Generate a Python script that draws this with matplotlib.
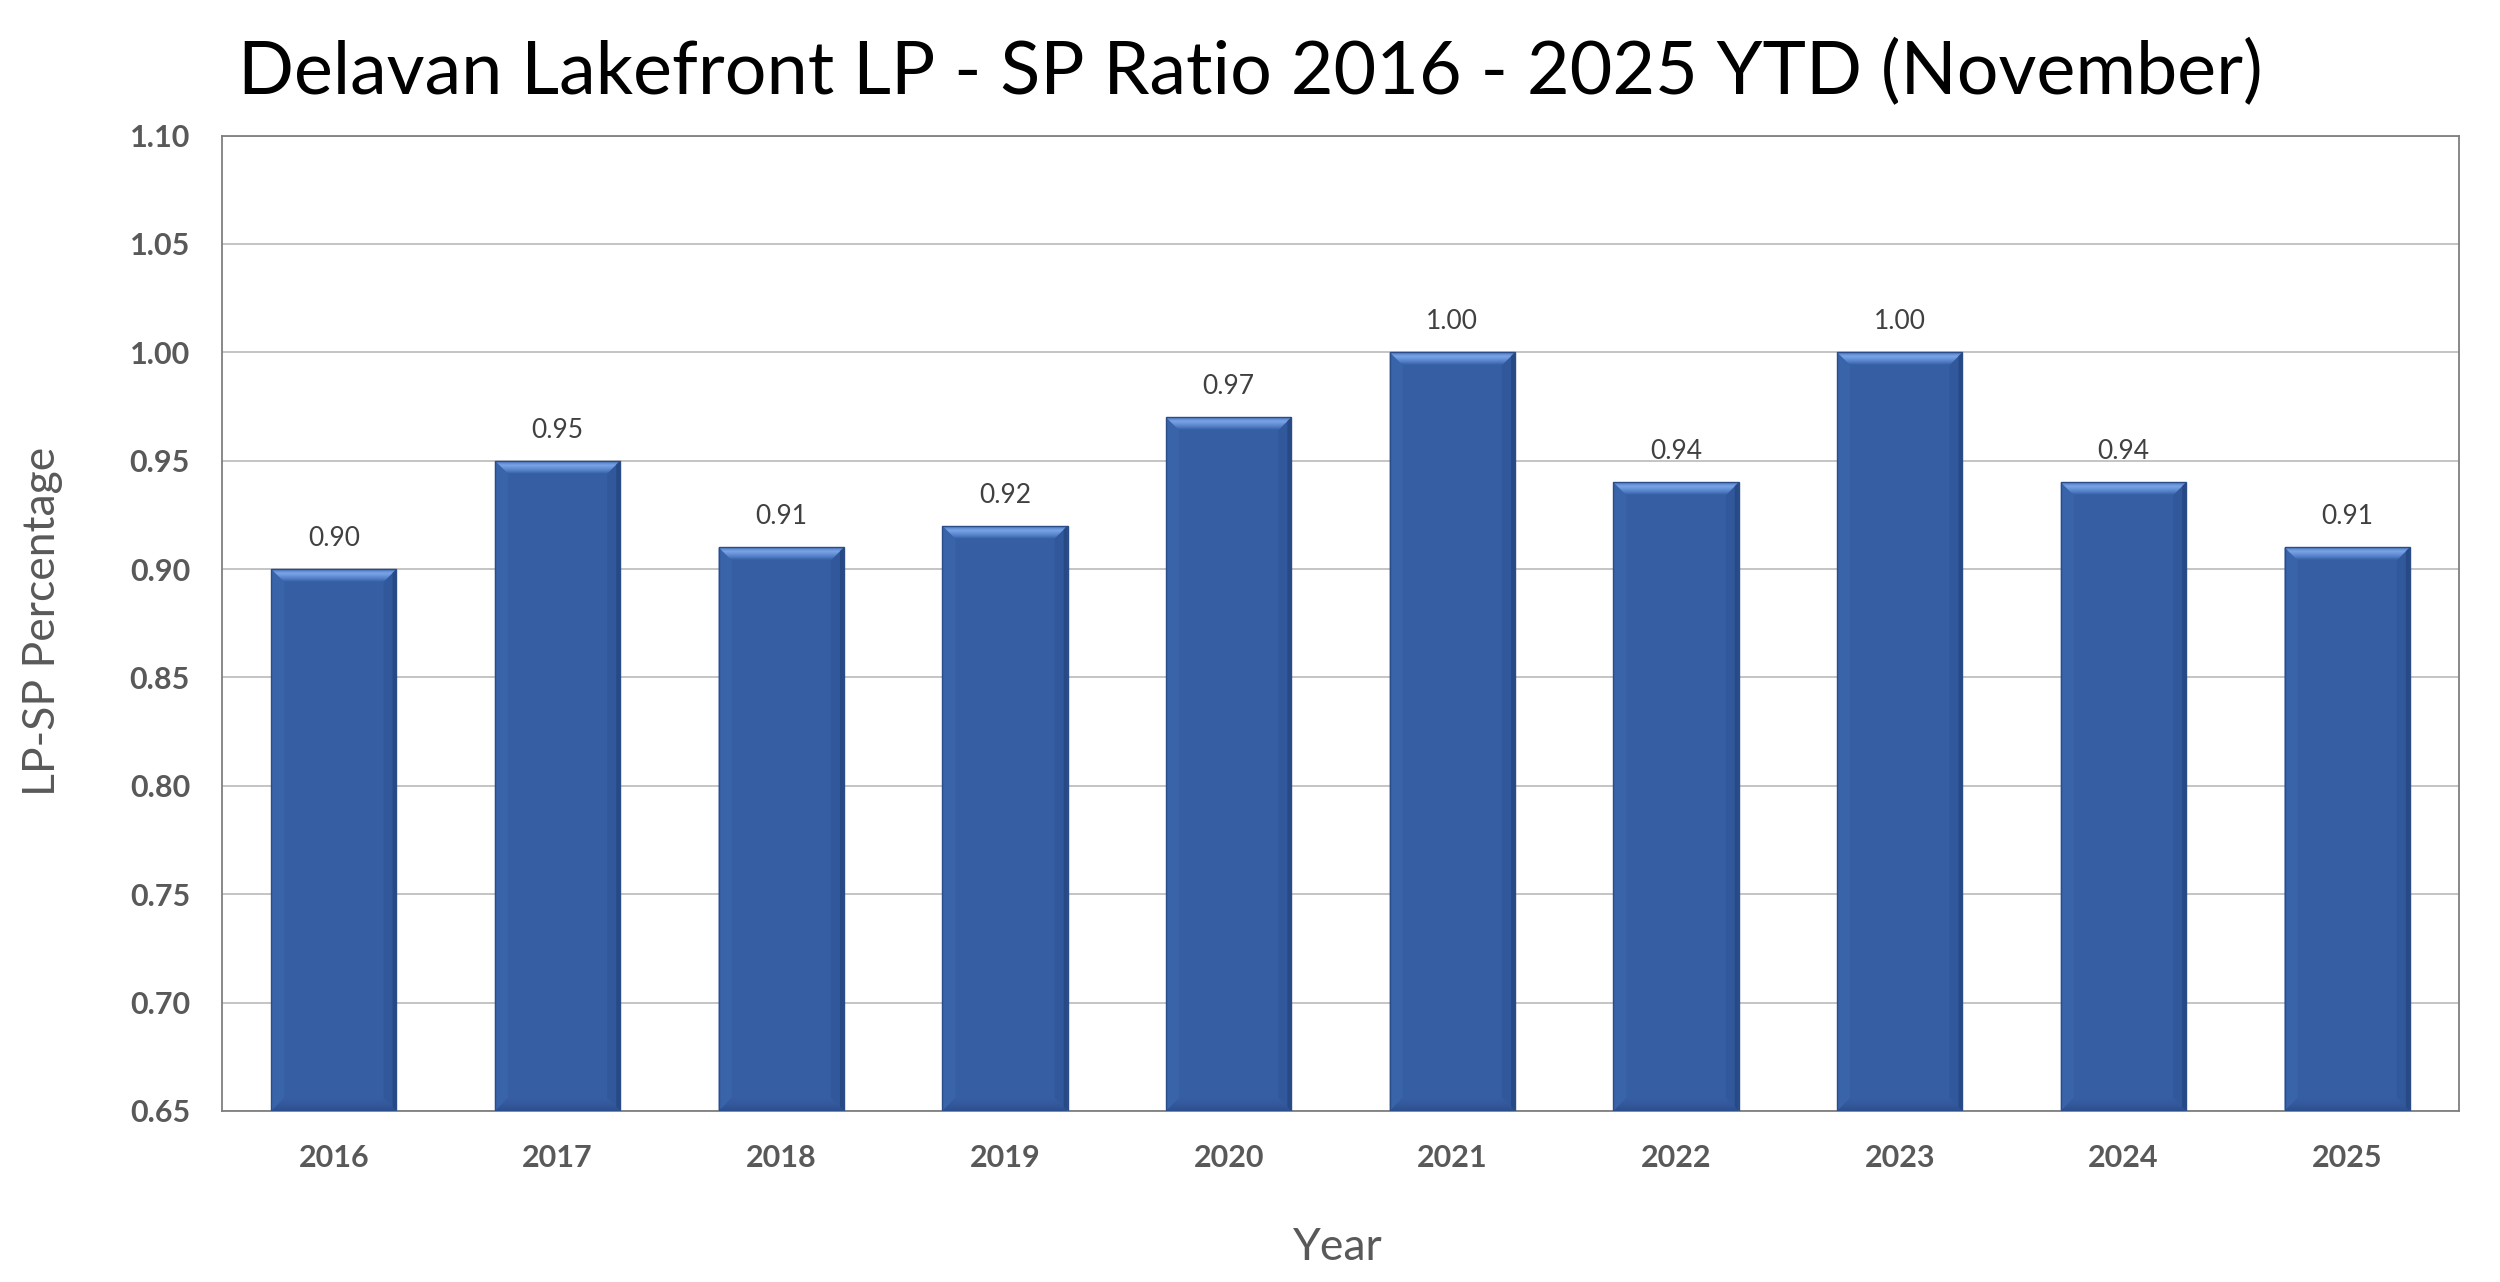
import numpy as np
import matplotlib
matplotlib.use("Agg")
import matplotlib.pyplot as plt
from matplotlib.patches import Polygon
from matplotlib.colors import LinearSegmentedColormap

years = ['2016', '2017', '2018', '2019', '2020', '2021', '2022', '2023', '2024', '2025']
ratios = [0.90, 0.95, 0.91, 0.92, 0.97, 1.00, 0.94, 1.00, 0.94, 0.91]
yticks = [0.65, 0.70, 0.75, 0.80, 0.85, 0.90, 0.95, 1.00, 1.05, 1.10]

plt.rcParams['font.family'] = ['Lato', 'DejaVu Sans']

fig = plt.figure(figsize=(25, 12.82), dpi=100, facecolor="white")
ax = fig.add_axes([0.0888, 0.1334, 0.8948, 0.7609])

ymin, ymax = 0.65, 1.10
ax.set_ylim(ymin, ymax)
ax.set_xlim(-0.5, len(years) - 0.5)

ax.set_yticks(yticks)
ax.yaxis.grid(True, color="#BFBFBF", linewidth=1.3)
ax.set_axisbelow(True)
for s in ax.spines.values():
    s.set_color("#7F7F7F")
    s.set_linewidth(1.3)

x = np.arange(len(years))
w = 0.56
base = "#365FA3"
ax.bar(x, [r - ymin for r in ratios], bottom=ymin, width=w, color=base,
       edgecolor="none", zorder=2)

# bevel size in data units (~13 px)
px_x = len(years) / (0.8948 * 2500)
px_y = (ymax - ymin) / (0.7609 * 1282)
bx = 13 * px_x
by = 13 * px_y

top_cmap = LinearSegmentedColormap.from_list("top", ["#365FA3", "#5A86CF", "#79A4E6", "#4F7BC4"])
bot_cmap = LinearSegmentedColormap.from_list("bot", ["#2B4F8E", "#34599B", "#365FA3"])
grad = np.linspace(0, 1, 64).reshape(-1, 1)

for xi, r in zip(x, ratios):
    l, rr = xi - w / 2, xi + w / 2
    b, t = ymin, r
    # top bevel, vertical gradient
    tp = Polygon([(l, t), (rr, t), (rr - bx, t - by), (l + bx, t - by)],
                 closed=True, facecolor="none", edgecolor="none")
    ax.add_patch(tp)
    im = ax.imshow(grad, cmap=top_cmap, extent=[l, rr, t - by, t], origin="lower",
                   aspect="auto", interpolation="bilinear", zorder=3)
    im.set_clip_path(tp)
    # bottom bevel
    bp = Polygon([(l, b), (rr, b), (rr - bx, b + by), (l + bx, b + by)],
                 closed=True, facecolor="none", edgecolor="none")
    ax.add_patch(bp)
    im2 = ax.imshow(grad, cmap=bot_cmap, extent=[l, rr, b, b + by], origin="lower",
                    aspect="auto", interpolation="bilinear", zorder=3)
    im2.set_clip_path(bp)
    # left side, slightly lighter
    ax.add_patch(Polygon([(l, t), (l + bx, t - by), (l + bx, b + by), (l, b)],
                         closed=True, facecolor="#3A64AA", edgecolor="none", zorder=2.5))
    # right side, darker
    ax.add_patch(Polygon([(rr, t), (rr - bx, t - by), (rr - bx, b + by), (rr, b)],
                         closed=True, facecolor="#31589A", edgecolor="none", zorder=2.5))
    ax.add_patch(Polygon([(rr, t), (rr - bx * 0.3, t - by * 0.3), (rr - bx * 0.3, b + by * 0.3), (rr, b)],
                         closed=True, facecolor="#274A86", edgecolor="none", zorder=3.5))
    # outline
    ax.add_patch(Polygon([(l, b), (l, t), (rr, t), (rr, b)], closed=True,
                         facecolor="none", edgecolor="#2A4C88", linewidth=1.0, zorder=4))
    ax.annotate("%.2f" % r, (xi, t), xytext=(0, 13), textcoords="offset points",
                ha="center", va="bottom", fontsize=19, color="#404040", zorder=5)

ax.set_xticks(x)
ax.set_xticklabels(years)
ax.set_yticklabels(["%.2f" % v for v in yticks])
ax.tick_params(axis="both", length=0, labelsize=22, labelcolor="#595959")
ax.tick_params(axis="y", pad=23)
ax.tick_params(axis="x", pad=24)
for lab in ax.get_xticklabels() + ax.get_yticklabels():
    lab.set_fontweight("bold")

fig.text(0.5, 0.943, "Delavan Lakefront LP - SP Ratio 2016 - 2025 YTD (November)",
         ha="center", va="center", fontsize=53, color="black")
fig.text(0.535, 0.027, "Year", ha="center", va="center", fontsize=32, color="#595959")
fig.text(0.017, 0.515, "LP-SP Percentage", ha="center", va="center", rotation=90,
         fontsize=32, color="#595959")

fig.savefig("out.png", dpi=100, facecolor="white")
